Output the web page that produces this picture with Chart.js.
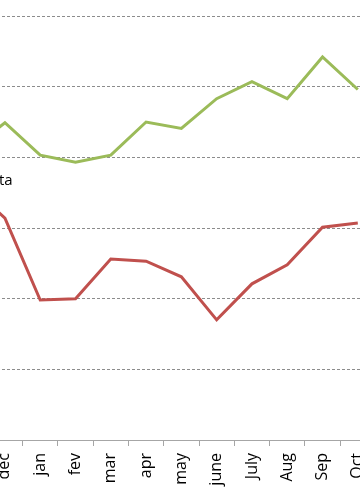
<!DOCTYPE html>
<html>
<head>
<meta charset="utf-8">
<script src="https://cdn.jsdelivr.net/npm/chart.js@4/dist/chart.umd.min.js"></script>
<style>
  html, body { margin: 0; padding: 0; background: #fff; overflow: hidden; }
  #frame { position: relative; width: 360px; height: 504px; overflow: hidden; }
  #wrap { position: absolute; left: -48px; top: 0; width: 432px; height: 504px; }
</style>
</head>
<body>
<div id="frame">
  <div id="wrap"><canvas id="lineChart"></canvas></div>
</div>
<script>
// months (the first one sits just outside the visible crop)
const months = ["nov", "dec", "jan", "fev", "mar", "apr", "may", "june", "July", "Aug", "Sep", "Oct"];
const greenSeries = [4.10, 4.49, 4.03, 3.93, 4.03, 4.50, 4.41, 4.83, 5.07, 4.83, 5.42, 4.96];
const redSeries = [3.60, 3.14, 1.98, 2.00, 2.56, 2.53, 2.31, 1.70, 2.21, 2.48, 3.01, 3.07];
const yTicks = [0, 1, 2, 3, 4, 5, 6];

// bout de texte coupé à gauche
const cutLabel = {
    id: 'cutLabel',
    afterDraw(chart) {
        const ctx = chart.ctx;
        ctx.save();
        ctx.font = '15px "Open Sans"';
        ctx.fillStyle = '#000';
        ctx.textBaseline = 'middle';
        ctx.fillText('ta', 48 - 1, 181);
        ctx.restore();
    }
};

const ctx = document.getElementById('lineChart').getContext('2d');
new Chart(ctx, {
    type: 'line',
    data: {
        labels: months,
        datasets: [
            {
                label: 'green',
                data: greenSeries,
                borderColor: '#9BBB59',
                borderWidth: 3,
                pointRadius: 0,
                tension: 0
            },
            {
                label: 'red',
                data: redSeries,
                borderColor: '#C0504D',
                borderWidth: 3,
                pointRadius: 0,
                tension: 0
            }
        ]
    },
    options: {
        responsive: true,
        maintainAspectRatio: false,
        animation: false,
        layout: { padding: { top: 16, left: 0, right: 0, bottom: 0 } },
        plugins: {
            legend: { display: false },
            tooltip: { enabled: false }
        },
        scales: {
            x: {
                offset: true,
                grid: {
                    offset: true,
                    drawOnChartArea: false,
                    drawTicks: true,
                    tickLength: 6,
                    color: '#a6a6a6'
                },
                border: { color: '#a6a6a6', width: 1 },
                ticks: {
                    color: '#000',
                    minRotation: 90,
                    maxRotation: 90,
                    padding: 7,
                    font: { family: '"Open Sans"', size: 16 }
                },
                afterFit(scale) { scale.height = 64; }
            },
            y: {
                min: yTicks[0],
                max: yTicks[yTicks.length - 1],
                afterBuildTicks(scale) { scale.ticks = yTicks.map(v => ({ value: v })); },
                ticks: { display: false },
                border: { display: false, dash: [3, 2] },
                grid: {
                    drawTicks: false,
                    color: '#8c8c8c',
                    lineWidth: 1
                },
                afterFit(scale) { scale.width = 0; }
            }
        }
    },
    plugins: [cutLabel]
});
</script>
</body>
</html>
